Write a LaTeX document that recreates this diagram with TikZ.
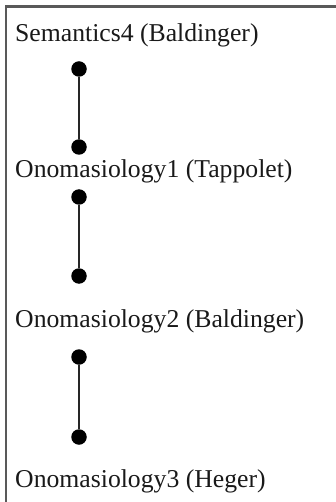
\documentclass[tikz,border=0pt]{standalone}
\usepackage{fontspec}
\setmainfont{Liberation Serif}
\begin{document}
\begin{tikzpicture}[x=1pt,y=-1pt,
  lbl/.style={anchor=base west,inner sep=0pt,font=\fontsize{25.7}{28}\selectfont,text=black!90},
  dot/.style={circle,fill=black,inner sep=0pt,minimum size=15.5pt},
  link/.style={line width=1.6pt,black!85}]
\useasboundingbox (0,0) rectangle (336,502);
\draw[line width=2.2pt,black!65] (6,502) -- (6,6.5) -- (336,6.5);
\node[lbl] (t1) at (15,42) {Semantics4 (Baldinger)};
\node[lbl] (t2) at (15,178) {Onomasiology1 (Tappolet)};
\node[lbl] (t3) at (15,327) {Onomasiology2 (Baldinger)};
\node[lbl] (t4) at (15,487) {Onomasiology3 (Heger)};
\node[dot] (d1) at (79,69) {};
\node[dot] (d2) at (79,147) {};
\node[dot] (d3) at (79,197) {};
\node[dot] (d4) at (79,276) {};
\node[dot] (d5) at (79,357) {};
\node[dot] (d6) at (79,437) {};
\draw[link] (d1) -- (d2);
\draw[link] (d3) -- (d4);
\draw[link] (d5) -- (d6);
\end{tikzpicture}
\end{document}
